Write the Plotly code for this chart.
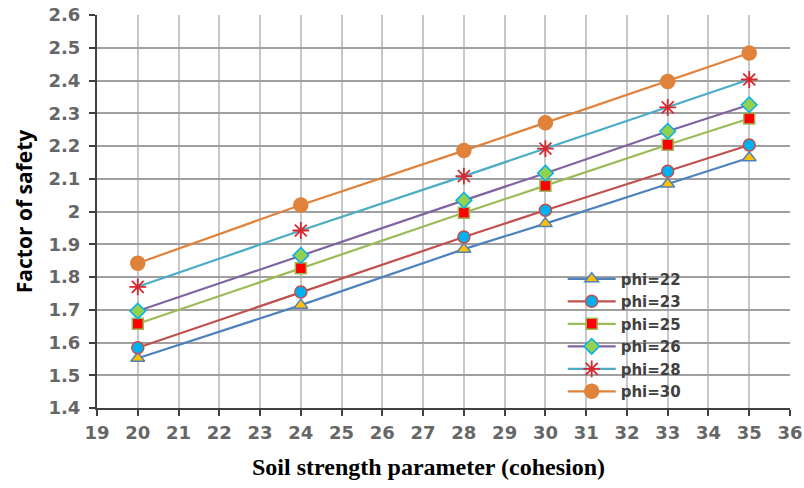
import plotly.graph_objects as go

cohesion = [20, 24, 28, 30, 33, 35]
phi22 = [1.552, 1.714, 1.885, 1.963, 2.084, 2.164]
phi23 = [1.584, 1.754, 1.922, 2.004, 2.123, 2.203]
phi25 = [1.657, 1.827, 1.996, 2.079, 2.204, 2.284]
phi26 = [1.696, 1.866, 2.034, 2.117, 2.245, 2.326]
phi28 = [1.770, 1.942, 2.108, 2.192, 2.318, 2.403]
phi30 = [1.842, 2.020, 2.186, 2.271, 2.397, 2.484]

x_ticks = list(range(19, 37))
y_ticks = [1.4, 1.5, 1.6, 1.7, 1.8, 1.9, 2.0, 2.1, 2.2, 2.3, 2.4, 2.5, 2.6]
y_labels = ["1.4", "1.5", "1.6", "1.7", "1.8", "1.9", "2", "2.1", "2.2", "2.3", "2.4", "2.5", "2.6"]

series = [
    ("phi=22", phi22, "#4F81BD", "triangle-up", "#FFC000", "#4F81BD", 12),
    ("phi=23", phi23, "#C0504D", "circle", "#00B0F0", "#C0504D", 12),
    ("phi=25", phi25, "#9BBB59", "square", "#FF0000", "#9BBB59", 11),
    ("phi=26", phi26, "#8064A2", "diamond", "#92D050", "#00B0F0", 12),
    ("phi=28", phi28, "#4BACC6", "asterisk", "#D7282F", "#D7282F", 14),
    ("phi=30", phi30, "#E0823A", "circle", "#E0823A", "#E0823A", 14),
]

fig = go.Figure()
for i, (name, vals, lc, sym, fc, oc, sz) in enumerate(series):
    fig.add_trace(go.Scatter(
        x=cohesion, y=vals, name=name, mode="lines+markers",
        line=dict(color=lc, width=2.2),
        marker=dict(symbol=sym, size=sz, color=fc,
                    line=dict(color=oc, width=1.5 if sym != "asterisk" else 1.8)),
    ))

# white legend box (as in the original), covering the grid
fig.add_shape(type="rect", xref="paper", yref="paper",
              x0=0.606, x1=0.932, y0=0.005, y1=0.364,
              fillcolor="white", line=dict(width=0), layer="between")

fig.add_annotation(text="<b>Soil strength parameter (cohesion)</b>",
                   xref="paper", yref="paper", x=0.478, y=-0.150,
                   xanchor="center", yanchor="middle", showarrow=False,
                   font=dict(family="Liberation Serif, Times New Roman, serif", size=24, color="black"))

tickfont = dict(family="DejaVu Sans", size=18, color="#666666", weight="bold")

fig.update_layout(
    width=804, height=488,
    margin=dict(l=97, r=14, t=15, b=80, autoexpand=False),
    paper_bgcolor="white", plot_bgcolor="white",
    showlegend=True,
    legend=dict(x=0.672, y=0.37, xanchor="left", yanchor="top",
                bgcolor="rgba(0,0,0,0)", tracegroupgap=0,
                font=dict(family="DejaVu Sans", size=15, color="#404040", weight="bold"),
                itemwidth=48),
    xaxis=dict(range=[19, 36], tickvals=x_ticks, ticktext=[str(v) for v in x_ticks],
               showgrid=True, gridcolor="#C8C8C8", gridwidth=1.5,
               showline=True, linecolor="#404040", linewidth=2,
               ticks="outside", ticklen=6, tickwidth=2, tickcolor="#404040",
               tickfont=tickfont, zeroline=False, ticklabelstandoff=1, automargin=False),
    yaxis=dict(range=[1.4, 2.6], tickvals=y_ticks, ticktext=y_labels,
               showgrid=True, gridcolor="#A0A0A0", gridwidth=1.5,
               showline=True, linecolor="#404040", linewidth=2,
               ticks="outside", ticklen=6, tickwidth=2, tickcolor="#404040",
               tickfont=tickfont, zeroline=False, ticklabelstandoff=5, automargin=False,
               title=dict(text="<b>Factor of safety</b>",
                          font=dict(family="Open Sans, Liberation Sans, sans-serif", size=21, color="black"),
                          standoff=10)),
)

fig.write_html("out.html", config={"displayModeBar": False},
               post_script="document.body.style.margin='0';")
